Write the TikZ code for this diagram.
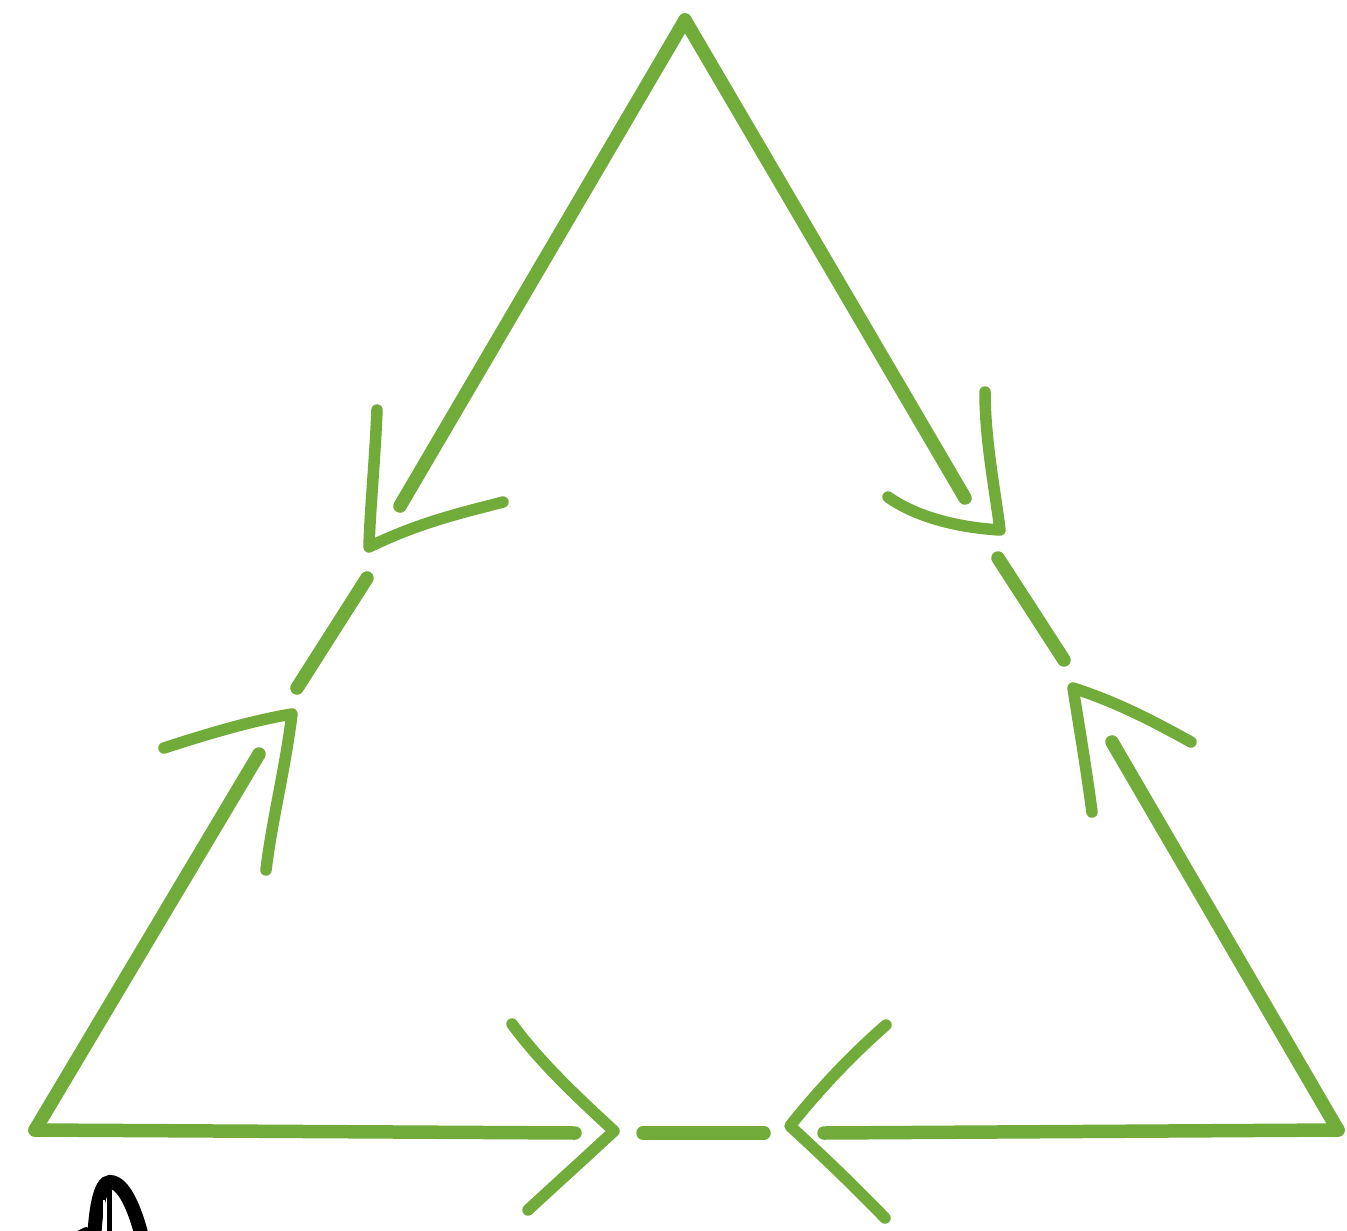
\documentclass[tikz,border=0pt]{standalone}
\definecolor{leaf}{RGB}{113,172,58}
\tikzset{
  side/.style={draw=leaf, line width=0.27cm, line cap=round, line join=round},
  arm/.style={draw=leaf, line width=0.23cm, line cap=round, line join=round},
  ink/.style={draw=black, line width=0.28cm, line cap=round}
}
\begin{document}
\begin{tikzpicture}[x=0.02cm, y=-0.02cm]
\useasboundingbox (0,0) rectangle (1347,1231);
\clip (0,0) rectangle (1347,1231);
\fill[white] (0,0) rectangle (1347,1231);
% vertices
\coordinate (A) at (685,20);
\coordinate (B) at (35,1130);
\coordinate (C) at (1338,1130);
% left side
\coordinate (l1) at (400,506);
\coordinate (lt1) at (369,547);
\coordinate (la1) at (377,410);
\coordinate (lb1) at (503,502);
\coordinate (lm1) at (367,578);
\coordinate (lm2) at (297,688);
\coordinate (lt2) at (292,714);
\coordinate (la2) at (164,748);
\coordinate (lb2) at (266,870);
\coordinate (l2) at (259,754);
\draw[side] (A) -- (l1);
\draw[arm] (la1) .. controls (375,460) and (370,510) .. (lt1) .. controls (420,522) and (465,512) .. (lb1);
\draw[side] (lm1) -- (lm2);
\draw[arm] (la2) .. controls (210,733) and (255,720) .. (lt2) .. controls (285,770) and (272,820) .. (lb2);
\draw[side] (l2) -- (B);
% right side
\coordinate (r1) at (965,498);
\coordinate (rt1) at (1000,530);
\coordinate (ra1) at (985,392);
\coordinate (rb1) at (888,497);
\coordinate (rm1) at (998,558);
\coordinate (rm2) at (1064,660);
\coordinate (rt2) at (1073,688);
\coordinate (ra2) at (1092,812);
\coordinate (rb2) at (1191,742);
\coordinate (r2) at (1112,742);
\draw[side] (A) -- (r1);
\draw[arm] (ra1) .. controls (985,440) and (995,490) .. (rt1) .. controls (950,527) and (912,514) .. (rb1);
\draw[side] (rm1) -- (rm2);
\draw[arm] (ra2) .. controls (1085,760) and (1078,720) .. (rt2) .. controls (1120,703) and (1160,725) .. (rb2);
\draw[side] (r2) -- (C);
% bottom side
\coordinate (b1) at (575,1133);
\coordinate (bt1) at (614,1131);
\coordinate (ba1) at (512,1024);
\coordinate (bb1) at (528,1210);
\coordinate (bm1) at (643,1133);
\coordinate (bm2) at (764,1133);
\coordinate (bt2) at (790,1126);
\coordinate (ba2) at (886,1025);
\coordinate (bb2) at (885,1218);
\coordinate (b2) at (824,1133);
\draw[side] (B) -- (b1);
\draw[arm] (ba1) .. controls (540,1062) and (575,1095) .. (bt1) .. controls (585,1158) and (555,1185) .. (bb1);
\draw[side] (bm1) -- (bm2);
\draw[arm] (ba2) .. controls (855,1052) and (820,1088) .. (bt2) .. controls (825,1158) and (858,1190) .. (bb2);
\draw[side] (b2) -- (C);
% black ink mark at bottom left
\coordinate (k1) at (94,1245);
\coordinate (k2) at (110,1182);
\coordinate (k3) at (144,1245);
\draw[ink] (k1) .. controls (95,1210) and (100,1182) .. (k2) .. controls (124,1182) and (136,1210) .. (k3);
\draw[draw=white, line width=0.05cm] (104,1200) -- (104,1240);
\draw[ink, line width=0.1cm] (109,1190) -- (109,1240);
\draw[ink, line width=0.12cm] (72,1237) -- (86,1230);
\end{tikzpicture}
\end{document}
